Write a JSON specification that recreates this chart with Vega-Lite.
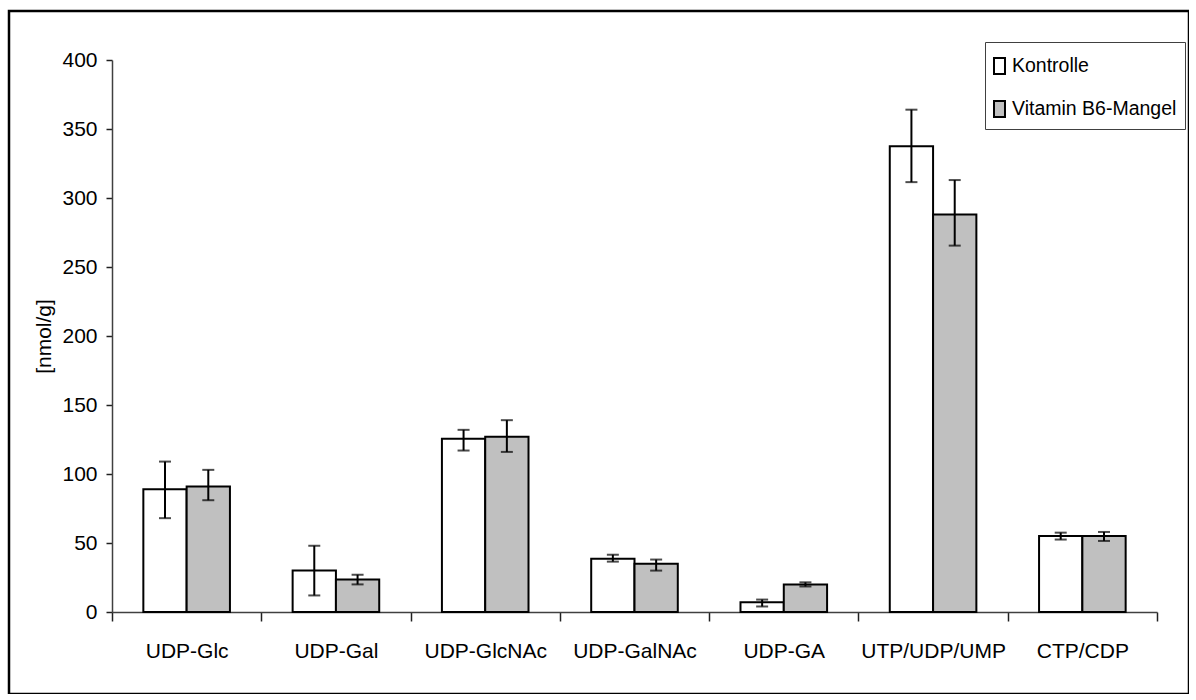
{
  "$schema": "https://vega.github.io/schema/vega-lite/v6.json",
  "autosize": "none",
  "padding": {"left": 9, "top": 11, "right": 0, "bottom": 0},
  "width": 1180,
  "height": 683,
  "background": "#ffffff",
  "config": {
    "view": {"stroke": "#000000", "strokeWidth": 2.5, "fill": "#ffffff"},
    "font": "Liberation Sans",
    "axis": {
      "labelFont": "Liberation Sans",
      "titleFont": "Liberation Sans",
      "labelColor": "#000000",
      "titleColor": "#000000",
      "domainColor": "#404040",
      "tickColor": "#202020",
      "domainWidth": 1.5,
      "tickWidth": 1.5,
      "grid": false
    },
    "legend": {"labelFont": "Liberation Sans"}
  },
  "data": {
    "values": [
      {"metabolit": "UDP-Glc", "gruppe": "Kontrolle", "wert": 89, "min": 68, "max": 109},
      {"metabolit": "UDP-Glc", "gruppe": "Vitamin B6-Mangel", "wert": 91, "min": 81, "max": 103},
      {"metabolit": "UDP-Gal", "gruppe": "Kontrolle", "wert": 30, "min": 12, "max": 48},
      {"metabolit": "UDP-Gal", "gruppe": "Vitamin B6-Mangel", "wert": 23.5, "min": 20, "max": 27},
      {"metabolit": "UDP-GlcNAc", "gruppe": "Kontrolle", "wert": 125.5, "min": 117, "max": 132},
      {"metabolit": "UDP-GlcNAc", "gruppe": "Vitamin B6-Mangel", "wert": 127, "min": 116, "max": 139},
      {"metabolit": "UDP-GalNAc", "gruppe": "Kontrolle", "wert": 38.5, "min": 36.5, "max": 41.5},
      {"metabolit": "UDP-GalNAc", "gruppe": "Vitamin B6-Mangel", "wert": 35, "min": 30, "max": 38},
      {"metabolit": "UDP-GA", "gruppe": "Kontrolle", "wert": 7, "min": 4, "max": 9},
      {"metabolit": "UDP-GA", "gruppe": "Vitamin B6-Mangel", "wert": 20, "min": 18.5, "max": 21.5},
      {"metabolit": "UTP/UDP/UMP", "gruppe": "Kontrolle", "wert": 337.5, "min": 311.5, "max": 364},
      {"metabolit": "UTP/UDP/UMP", "gruppe": "Vitamin B6-Mangel", "wert": 288, "min": 265.5, "max": 313},
      {"metabolit": "CTP/CDP", "gruppe": "Kontrolle", "wert": 55, "min": 52.5, "max": 57.5},
      {"metabolit": "CTP/CDP", "gruppe": "Vitamin B6-Mangel", "wert": 55, "min": 51.5, "max": 58}
    ]
  },
  "encoding": {
    "x": {
      "field": "metabolit",
      "type": "nominal",
      "sort": null,
      "scale": {"range": [103, 1148], "paddingInner": 0, "paddingOuter": 0},
      "axis": {
        "title": null,
        "orient": "bottom",
        "offset": -82,
        "labelAngle": 0,
        "labelFontSize": 21,
        "labelPadding": 19,
        "tickBand": "extent",
        "tickSize": 9
      }
    },
    "xOffset": {
      "field": "gruppe",
      "type": "nominal",
      "sort": ["Kontrolle", "Vitamin B6-Mangel"],
      "scale": {"paddingInner": 0, "paddingOuter": 0.724}
    }
  },
  "layer": [
    {
      "mark": {"type": "bar", "stroke": "#000000", "strokeWidth": 2},
      "encoding": {
        "y": {
          "field": "wert",
          "type": "quantitative",
          "scale": {"domain": [0, 400], "range": [601, 49], "nice": false, "zero": true},
          "axis": {
            "title": "[nmol/g]",
            "orient": "left",
            "offset": -103,
            "values": [0, 50, 100, 150, 200, 250, 300, 350, 400],
            "labelFontSize": 21,
            "labelPadding": 9,
            "tickSize": 6,
            "titleFontSize": 21,
            "titleFontWeight": "normal",
            "titlePadding": 7
          }
        },
        "fill": {
          "field": "gruppe",
          "type": "nominal",
          "sort": ["Kontrolle", "Vitamin B6-Mangel"],
          "scale": {"domain": ["Kontrolle", "Vitamin B6-Mangel"], "range": ["#ffffff", "#c0c0c0"]},
          "legend": {
            "title": null,
            "orient": "none",
            "legendX": 976,
            "legendY": 31,
            "direction": "vertical",
            "strokeColor": "#404040",
            "fillColor": "#ffffff",
            "padding": 8,
            "rowPadding": 15,
            "labelFontSize": 19.5,
            "labelLimit": 400,
            "labelColor": "#000000",
            "labelOffset": -13,
            "symbolType": "M-1,-0.533H-0.267V0.533H-1Z",
            "symbolSize": 900,
            "symbolStrokeColor": "#000000",
            "symbolStrokeWidth": 2
          }
        }
      }
    },
    {
      "mark": {"type": "rule", "color": "#000000", "strokeWidth": 2},
      "encoding": {
        "y": {"field": "min", "type": "quantitative"},
        "y2": {"field": "max"}
      }
    },
    {
      "mark": {"type": "tick", "color": "#000000", "size": 12, "thickness": 2},
      "encoding": {
        "y": {"field": "min", "type": "quantitative"}
      }
    },
    {
      "mark": {"type": "tick", "color": "#000000", "size": 12, "thickness": 2},
      "encoding": {
        "y": {"field": "max", "type": "quantitative"}
      }
    }
  ]
}
